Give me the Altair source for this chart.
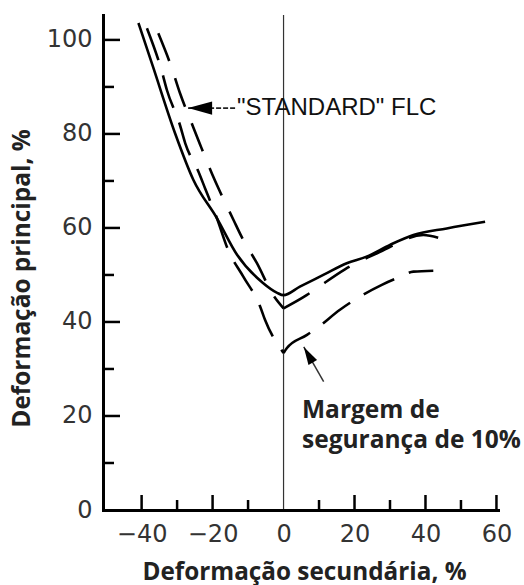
import altair as alt
import pandas as pd

# Eixos: deformação secundária (x) e principal (y), em %
X_DOMAIN = [-50.6, 61.0]
Y_DOMAIN = [0.0, 105.3]
W, H = 396, 495

# Curva-limite de conformação (linha cheia)
solid_x = [-40.9, -36.8, -30.6, -25.4, -18.8, -13.1, -5.8, -1.8, 0.0,
           4.6, 11.2, 17.8, 23.4, 30.0, 36.6, 46.0, 56.8]
solid_y = [103.6, 94.3, 80.2, 70.2, 62.1, 54.3, 48.3, 46.2, 45.7,
           47.5, 50.0, 52.5, 53.9, 56.4, 58.5, 59.9, 61.3]

# "STANDARD" FLC (tracejada): ramo esquerdo e ramo direito
std_left_x = [-35.3, -31.5, -29.2, -25.9, -23.5, -20.2, -17.9, -14.1, -11.8, -7.5, -2.9, 0.0]
std_left_y = [101.4, 94.0, 88.7, 82.3, 77.7, 71.6, 67.7, 61.7, 58.1, 52.5, 45.7, 42.9]
std_right_x = [0.0, 6.5, 9.8, 17.3, 27.2, 39.4, 44.1]
std_right_y = [42.9, 45.7, 47.4, 51.2, 54.9, 58.5, 57.8]

# Curva com margem de segurança de 10% (tracejada)
margin_left_x = [-38.5, -34.3, -32.9, -29.2, -27.7, -24.0, -22.1, -18.8, -15.6, -11.3, -6.6, -5.2, 0.0]
margin_left_y = [102.5, 93.3, 89.4, 81.9, 78.0, 72.0, 68.4, 62.1, 55.3, 49.6, 43.3, 40.4, 33.4]
margin_right_x = [0.0, 0.9, 6.5, 9.4, 15.9, 19.2, 27.7, 31.9, 36.6, 42.2]
margin_right_y = [33.4, 34.4, 37.2, 38.7, 42.6, 44.3, 47.9, 49.3, 50.7, 50.9]

# Marcas dos eixos
x_labels = [-40, -20, 0, 20, 40, 60]
x_major = [-40, -20, 20, 40, 60]
x_minor = [-30, -10, 10, 30, 50]
y_labels = [0, 20, 40, 60, 80, 100]
y_major = [20, 40, 60, 80, 100]
y_minor = [10, 30, 50, 70, 90]

# Anotações
std_label = ['"STANDARD" FLC']
std_label_pos = [-13.1, 84.0]
std_arrow_tip = [-26.9, 85.5]
std_arrow_tail = [-13.6, 85.5]
margin_label = ["Margem de", "segurança de 10%"]
margin_label_x = [5.2, 5.2]
margin_label_y = [19.6, 13.2]
margin_arrow_tip = [5.7, 34.7]
margin_arrow_tail = [11.3, 27.3]

FONT_T = "DejaVu Sans"
FONT_B = "Open Sans"

xs = alt.Scale(domain=X_DOMAIN, nice=False, zero=False)
ys = alt.Scale(domain=Y_DOMAIN, nice=False, zero=False)

x_axis = alt.Axis(
    values=x_labels, ticks=False, tickSize=0, grid=False, domain=False,
    labelFont=FONT_T, labelFontSize=24, labelColor="#333", labelPadding=12,
    labelFlush=False, labelOverlap=False,
    title="Deformação secundária, %", titleFont=FONT_B, titleFontWeight="bold",
    titleFontSize=24.3, titleColor="#222", titleX=200, titleY=62,
    titleAlign="center", titleBaseline="middle")
y_axis = alt.Axis(
    values=y_labels, ticks=False, tickSize=0, grid=False, domain=False,
    labelFont=FONT_T, labelFontSize=24, labelColor="#333", labelPadding=12,
    labelFlush=False, labelOverlap=False,
    title="Deformação principal, %", titleFont=FONT_B, titleFontWeight="bold",
    titleFontSize=24.4, titleColor="#222", titleX=-82, titleY=263,
    titleAlign="center", titleBaseline="middle")


def X(field="x"):
    return alt.X(f"{field}:Q", scale=xs, axis=x_axis)


def Y(field="y"):
    return alt.Y(f"{field}:Q", scale=ys, axis=y_axis)


def curve(xv, yv, dash=None, interp="monotone"):
    df = pd.DataFrame({"x": xv, "y": yv})
    kw = dict(color="black", strokeWidth=2.6, strokeCap="butt", strokeJoin="round",
              interpolate=interp, clip=False)
    if dash:
        kw["strokeDash"] = dash
    return alt.Chart(df).mark_line(**kw).encode(x=X(), y=Y(), order="x:Q")


# Linhas dos eixos (bordas esquerda e inferior)
y_line = alt.Chart(pd.DataFrame({"k": [0]})).mark_rule(
    color="black", strokeWidth=3, clip=False
).encode(x=alt.value(-0.5), y=alt.value(-1), y2=alt.value(H + 1.5))
x_line = alt.Chart(pd.DataFrame({"k": [0]})).mark_rule(
    color="black", strokeWidth=3, clip=False
).encode(y=alt.value(H + 0.5), x=alt.value(-2), x2=alt.value(W))


# Marcas internas dos eixos
def yticks(vals, length):
    return alt.Chart(pd.DataFrame({"y": vals})).mark_rule(color="black", strokeWidth=2.5, clip=False).encode(
        y=Y(), x=alt.value(0), x2=alt.value(length))


def xticks(vals, length):
    return alt.Chart(pd.DataFrame({"x": vals})).mark_rule(color="black", strokeWidth=2.5, clip=False).encode(
        x=X(), y=alt.value(H), y2=alt.value(H - length))


zero_line = alt.Chart(pd.DataFrame({"x": [0]})).mark_rule(color="#333", strokeWidth=1.2).encode(
    x=X(), y=alt.value(0), y2=alt.value(H))

# Seta e rótulo "STANDARD" FLC
std_text = alt.Chart(pd.DataFrame({"x": [std_label_pos[0]], "y": [std_label_pos[1]], "t": std_label})).mark_text(
    align="left", baseline="alphabetic", font="Liberation Sans", fontSize=24, color="#111"
).encode(x=X(), y=Y(), text="t:N")

std_shaft = alt.Chart(pd.DataFrame({"x": [std_arrow_tip[0]], "x2": [std_arrow_tail[0]], "y": [std_arrow_tip[1]]})).mark_rule(
    color="#222", strokeWidth=1.6, strokeDash=[5, 2]
).encode(x=X(), x2="x2:Q", y=Y())

ARROW = "M0,0 L2,-0.55 L2,0.55 Z"
std_head = alt.Chart(pd.DataFrame({"x": [std_arrow_tip[0]], "y": [std_arrow_tip[1]]})).mark_point(
    shape=ARROW, size=576, filled=True, color="black", opacity=1, strokeWidth=0
).encode(x=X(), y=Y())

# Seta e rótulo da margem de segurança
margin_text = alt.Chart(pd.DataFrame({"x": margin_label_x, "y": margin_label_y, "t": margin_label})).mark_text(
    align="left", baseline="alphabetic", font=FONT_B, fontWeight="bold", fontSize=24.5, color="#222"
).encode(x=X(), y=Y(), text="t:N")

margin_shaft = alt.Chart(pd.DataFrame({
    "x": [margin_arrow_tip[0]], "x2": [margin_arrow_tail[0]],
    "y": [margin_arrow_tip[1]], "y2": [margin_arrow_tail[1]]})).mark_rule(
    color="#333", strokeWidth=1.5
).encode(x=X(), x2="x2:Q", y=Y(), y2="y2:Q")

margin_head = alt.Chart(pd.DataFrame({"x": [margin_arrow_tip[0]], "y": [margin_arrow_tip[1]]})).mark_point(
    shape=ARROW, size=324, filled=True, color="black", opacity=1, strokeWidth=0, angle=60
).encode(x=X(), y=Y())

chart = alt.layer(
    zero_line,
    yticks(y_major, 16), yticks(y_minor, 10),
    xticks(x_major, 15), xticks(x_minor, 10),
    y_line, x_line,
    curve(solid_x, solid_y),
    curve(std_left_x, std_left_y, [30, 18]),
    curve(std_right_x, std_right_y, [30, 18]),
    curve(margin_left_x, margin_left_y, [34, 16]),
    curve(margin_right_x, margin_right_y, [34, 16]),
    std_shaft, std_head, std_text,
    margin_shaft, margin_head, margin_text,
).properties(
    width=W, height=H,
    autosize=alt.AutoSizeParams(type="none"),
    padding={"left": 104, "top": 15, "right": 24, "bottom": 75},
    background="white",
).configure_view(strokeWidth=0)

chart.save("out.html", embed_options={"renderer": "svg", "actions": False})
